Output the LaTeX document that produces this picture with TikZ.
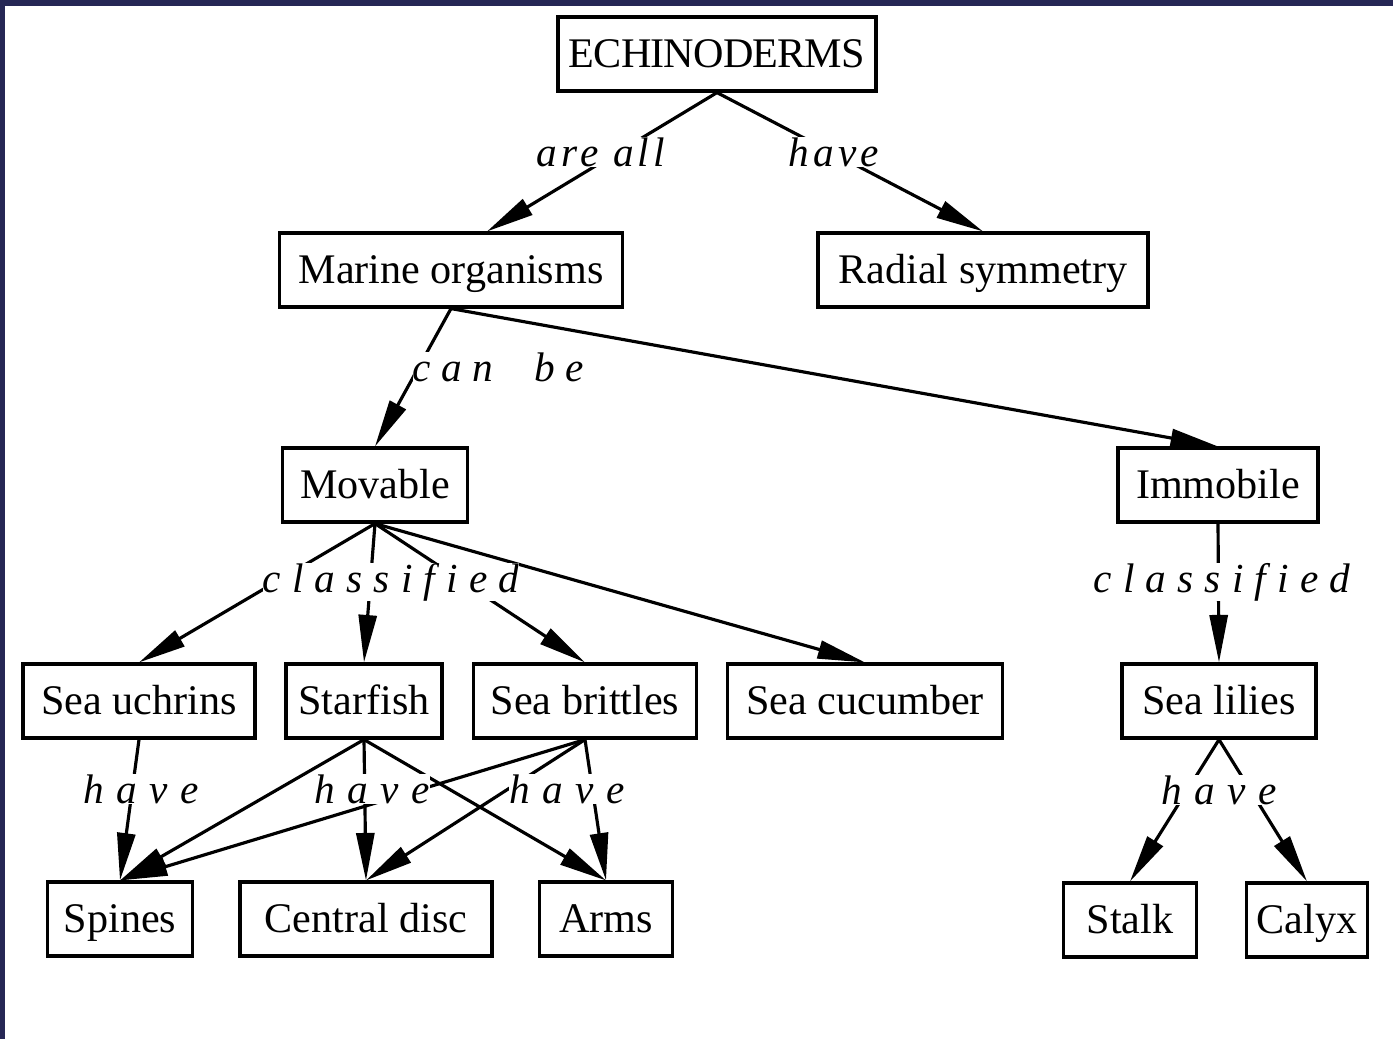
\documentclass[tikz,border=0pt]{standalone}
\usepackage{fontspec}
\setmainfont{Liberation Serif}
\usetikzlibrary{positioning}
\usetikzlibrary{calc}
\usetikzlibrary{arrows.meta}

\definecolor{frame}{RGB}{38,39,85}

\tikzset{
    concept/.style={draw, line width=1.8pt, minimum height=1.48cm, minimum width=#1*0.02cm,
        inner xsep=0.2cm, text height=0.7cm, text depth=0.18cm,
        font=\fontsize{24}{28}\selectfont},
    arr/.style={-{Triangle[length=0.95cm, width=0.36cm]}, line width=1.8pt},
    lbl/.style={fill=white, inner sep=0pt,
        font=\fontsize{23.5}{28}\selectfont\itshape\addfontfeatures{LetterSpace=#1}},
    lbl/.default=27
}

\begin{document}
\begin{tikzpicture}[x=0.02cm, y=-0.02cm]

    \useasboundingbox (0,0) rectangle (1393,1039);
    \fill[frame] (0,0) rectangle (1393,6);
    \fill[frame] (0,0) rectangle (5,1039);

    \node(echino)[concept=318] at (717,54) {\addfontfeatures{LetterSpace=-2}ECHINODERMS};
    \node(marine)[concept=343] at (451,270) {Marine organisms};
    \node(radial)[concept=330] at (983,270) {Radial symmetry};

    \node(movable)[concept=185] at (375,485) {Movable};
    \node(immobile)[concept=200] at (1218,485) {Immobile};

    \node(urchins)[concept=232] at (139,701) {Sea uchrins};
    \node(starfish)[concept=156] at (364,701) {Starfish};
    \node(brittles)[concept=223] at (585,701) {Sea brittles};
    \node(cucumber)[concept=275] at (865,701) {Sea cucumber};
    \node(lilies)[concept=194] at (1219,701) {Sea lilies};

    \node(spines)[concept=145] at (120,919) {Spines};
    \node(disc)[concept=252] at (366,919) {Central disc};
    \node(arms)[concept=133] at (606,919) {Arms};
    \node(stalk)[concept=133] at (1130,920) {Stalk};
    \node(calyx)[concept=118] at (1307,920) {Calyx};

    \draw[arr] (echino.south) -- ($(marine.north)+(36,0)$);
    \draw[arr] (echino.south) -- (radial.north);
    \draw[arr] (marine.south) -- (movable.north);
    \draw[arr] (marine.south) -- (immobile.north);

    \draw[arr] (movable.south) -- (urchins.north);
    \draw[arr] (movable.south) -- (starfish.north);
    \draw[arr] (movable.south) -- (brittles.north);
    \draw[arr] (movable.south) -- (cucumber.north);
    \draw[arr] (immobile.south) -- (lilies.north);

    \draw[arr] (urchins.south) -- (spines.north);
    \draw[arr] (starfish.south) -- (spines.north);
    \draw[arr] (starfish.south) -- (disc.north);
    \draw[arr] (starfish.south) -- (arms.north);
    \draw[arr] (brittles.south) -- (spines.north);
    \draw[arr] (brittles.south) -- (disc.north);
    \draw[arr] (brittles.south) -- (arms.north);
    \draw[arr] (lilies.south) -- (stalk.north);
    \draw[arr] (lilies.south) -- (calyx.north);

    % link words
    \node(areall)[lbl=10] at (601,152) {are all};
    \node(have1)[lbl=10] at (834,152) {have};
    \node(canbe)[lbl=25] at (498,367) {can\ \ be};
    \node(class1)[lbl] at (391,582) {classified};
    \node(class2)[lbl] at (1222,582) {classified};
    \node(have2)[lbl=30] at (141,789) {have};
    \node(have3)[lbl=30] at (372,789) {have};
    \node(have4)[lbl=30] at (567,789) {have};
    \node(have5)[lbl=30] at (1219,790) {have};

\end{tikzpicture}
\end{document}
